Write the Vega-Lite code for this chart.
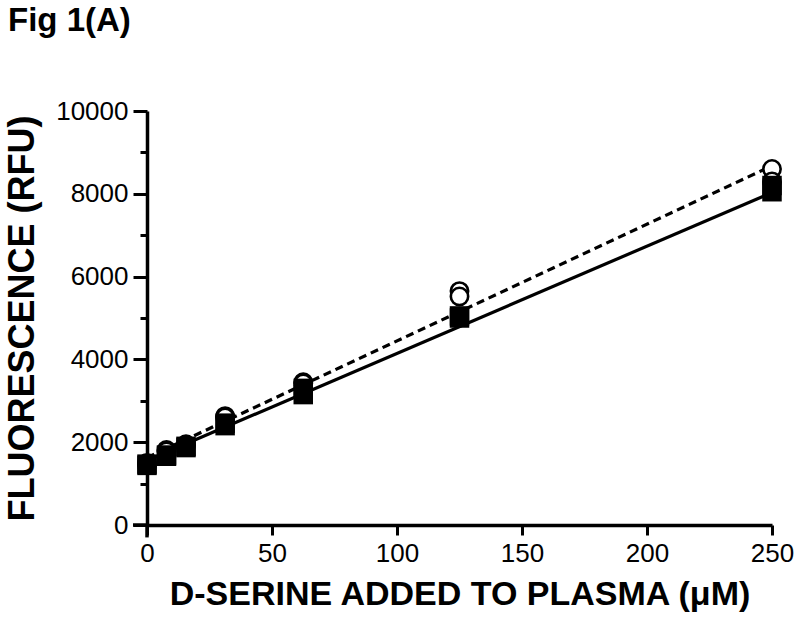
{
  "$schema": "https://vega.github.io/schema/vega-lite/v6.json",
  "width": 625,
  "height": 414,
  "autosize": "none",
  "padding": {"left": 147, "top": 111, "right": 28, "bottom": 103},
  "background": "white",
  "title": {"text": "Fig 1(A)", "anchor": "start", "frame": "group", "fontSize": 33, "font": "Liberation Sans", "fontWeight": "bold", "color": "black", "dx": -139, "offset": 60},
  "config": {"view": {"stroke": null}, "font": "Liberation Sans"},
  "datasets": {
    "squares": [
      {"x": 0, "y": 1470}, {"x": 0, "y": 1440},
      {"x": 7.8, "y": 1690}, {"x": 7.8, "y": 1660},
      {"x": 15.6, "y": 1900}, {"x": 15.6, "y": 1870},
      {"x": 31.25, "y": 2460}, {"x": 31.25, "y": 2400},
      {"x": 62.5, "y": 3300}, {"x": 62.5, "y": 3150},
      {"x": 125, "y": 5050}, {"x": 125, "y": 5000},
      {"x": 250, "y": 8200}, {"x": 250, "y": 8050}
    ],
    "circles": [
      {"x": 0, "y": 1500}, {"x": 0, "y": 1450},
      {"x": 7.8, "y": 1810}, {"x": 7.8, "y": 1780},
      {"x": 15.6, "y": 1950}, {"x": 15.6, "y": 1930},
      {"x": 31.25, "y": 2630}, {"x": 31.25, "y": 2600},
      {"x": 62.5, "y": 3450}, {"x": 62.5, "y": 3420},
      {"x": 125, "y": 5650}, {"x": 125, "y": 5520},
      {"x": 250, "y": 8600}, {"x": 250, "y": 8300}
    ],
    "fitSolid": [{"x": 0, "y": 1556}, {"x": 250, "y": 8030}],
    "fitDashed": [{"x": 0, "y": 1626}, {"x": 250, "y": 8676}],
    "axisExtX": [{"x": -5.6, "x2": 0, "y": 0}],
    "axisExtY": [{"x": 0, "y": -300, "y2": 0}]
  },
  "layer": [
    {
      "data": {"name": "axisExtX"},
      "mark": {"type": "rule", "color": "black", "strokeWidth": 3.5, "clip": false},
      "encoding": {
        "x": {"field": "x", "type": "quantitative", "scale": {"domain": [0, 250], "nice": false, "zero": false}},
        "x2": {"field": "x2"},
        "y": {"field": "y", "type": "quantitative", "axis": null}
      }
    },
    {
      "data": {"name": "axisExtY"},
      "mark": {"type": "rule", "color": "black", "strokeWidth": 3.5, "clip": false},
      "encoding": {
        "x": {"field": "x", "type": "quantitative"},
        "y": {"field": "y", "type": "quantitative", "axis": null},
        "y2": {"field": "y2"}
      }
    },
    {
      "data": {"name": "fitSolid"},
      "mark": {"type": "line", "color": "black", "strokeWidth": 3.2},
      "encoding": {
        "x": {"field": "x", "type": "quantitative"},
        "y": {"field": "y", "type": "quantitative", "axis": null}
      }
    },
    {
      "data": {"name": "fitDashed"},
      "mark": {"type": "line", "color": "black", "strokeWidth": 3.2, "strokeDash": [8, 5]},
      "encoding": {
        "x": {"field": "x", "type": "quantitative"},
        "y": {"field": "y", "type": "quantitative", "axis": null}
      }
    },
    {
      "data": {"name": "circles"},
      "mark": {"type": "point", "shape": "circle", "filled": true, "fill": "white", "stroke": "black", "strokeWidth": 2.6, "size": 300, "opacity": 1},
      "encoding": {
        "x": {"field": "x", "type": "quantitative"},
        "y": {"field": "y", "type": "quantitative",
          "axis": {"orient": "left", "values": [1000, 3000, 5000, 7000, 9000], "labels": false, "domain": false, "grid": false, "tickSize": 7, "tickWidth": 3, "tickColor": "black", "title": null}}
      }
    },
    {
      "data": {"name": "squares"},
      "mark": {"type": "square", "color": "black", "size": 380, "opacity": 1},
      "encoding": {
        "x": {"field": "x", "type": "quantitative",
          "axis": {"title": "D-SERINE ADDED TO PLASMA (\u03bcM)", "values": [0, 50, 100, 150, 200, 250], "format": "d", "grid": false, "domainColor": "black", "domainWidth": 3.5, "tickColor": "black", "tickWidth": 3, "tickSize": 10, "labelFontSize": 26, "labelColor": "black", "labelPadding": 5, "labelFlush": false, "titleFontSize": 34, "titleFontWeight": "bold", "titleColor": "black", "titlePadding": 11}},
        "y": {"field": "y", "type": "quantitative",
          "scale": {"domain": [0, 10000], "nice": false, "zero": false},
          "axis": {"orient": "left", "title": "FLUORESCENCE (RFU)", "values": [0, 2000, 4000, 6000, 8000, 10000], "format": "d", "grid": false, "domainColor": "black", "domainWidth": 3.5, "tickColor": "black", "tickWidth": 3, "tickSize": 14, "labelFontSize": 26, "labelColor": "black", "labelPadding": 5, "labelFlush": false, "titleFontSize": 36, "titleFontWeight": "bold", "titleColor": "black", "titlePadding": 14}}
      }
    }
  ],
  "resolve": {"axis": {"y": "independent"}}
}
